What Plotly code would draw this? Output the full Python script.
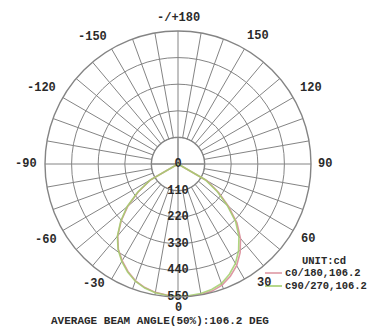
import math
import numpy as np
import plotly.graph_objects as go

# ---- data ----
angles = [-90, -85, -80, -75, -70, -65, -60, -55, -50, -45, -40, -35, -30, -25, -20, -15, -10, -5,
          0, 5, 10, 15, 20, 25, 30, 35, 40, 45, 50, 55, 60, 65, 70, 75, 80, 85, 90]
c0_180 = [0, 0, 0, 0, 0, 0, 130, 200, 270, 332, 388, 430, 462, 490, 514, 529, 539, 544,
          547, 549, 549, 544, 533, 512, 485, 448, 402, 345, 272, 205, 138, 0, 0, 0, 0, 0, 0]
c90_270 = [0, 0, 0, 0, 0, 0, 135, 205, 275, 335, 390, 432, 465, 493, 516, 531, 541, 545,
           546, 546, 544, 537, 526, 503, 475, 437, 392, 337, 265, 198, 130, 0, 0, 0, 0, 0, 0]
radial_ticks = [0, 110, 220, 330, 440, 550]
angular_labels = ["0", "30", "60", "90", "120", "150", "-/+180", "-150", "-120", "-90", "-60", "-30"]
series_names = ["c0/180,106.2", "c90/270,106.2"]
series_colors = ["#dd98a4", "#a3cf6c"]

# ---- layout / styling (positions) ----
label_theta = [0, 36, 60, 90, 120, 148, 180, 214, 241, 270, 300, 325]
label_rpx = [144, 147, 150, 147, 153, 151, 146, 153, 156, 152, 152, 146]

W, H = 367, 329
cx, cy, R = 178, 164, 133
RMAX = radial_ticks[-1]
GRID = "#848484"
GW = 1.4
FONT = "Liberation Mono"
TXT = "#2a2a2a"

fig = go.Figure()

# inner circle mask (no spokes inside the first ring)
circ_t = np.linspace(0, 360, 181)
fig.add_trace(go.Scatterpolar(r=[radial_ticks[1]] * len(circ_t), theta=circ_t, mode="lines",
                              fill="toself", fillcolor="white",
                              line=dict(color=GRID, width=GW), hoverinfo="skip", showlegend=False))
# axes through the centre
for a in (0, 90):
    fig.add_trace(go.Scatterpolar(r=[radial_ticks[1], radial_ticks[1]], theta=[a, a + 180], mode="lines",
                                  line=dict(color=GRID, width=GW), hoverinfo="skip", showlegend=False))

# data curves
for vals, name, col, op in zip([c0_180, c90_270], series_names, series_colors, [1.0, 0.85]):
    fig.add_trace(go.Scatterpolar(r=vals, theta=angles, mode="lines", name=name, opacity=op,
                                  line=dict(color=col, width=1.6), showlegend=False))

# radial tick labels
fig.add_trace(go.Scatterpolar(r=radial_ticks, theta=[0] * len(radial_ticks), mode="text",
                              text=[f"<b>{v}</b>" for v in radial_ticks],
                              textfont=dict(family=FONT, size=12, color=TXT),
                              textposition="middle center", hoverinfo="skip", showlegend=False))

fig.update_layout(
    width=W, height=H,
    margin=dict(l=0, r=0, t=0, b=0),
    paper_bgcolor="white", plot_bgcolor="white",
    showlegend=False,
    polar=dict(
        domain=dict(x=[(cx - R) / W, (cx + R) / W], y=[(H - cy - R) / H, (H - cy + R) / H]),
        bgcolor="white",
        angularaxis=dict(rotation=270, direction="counterclockwise",
                         tickmode="linear", tick0=0, dtick=10,
                         showticklabels=False, ticks="",
                         showgrid=True, gridcolor=GRID, gridwidth=GW,
                         showline=True, linecolor=GRID, linewidth=GW),
        radialaxis=dict(range=[0, RMAX], tickvals=radial_ticks[1:],
                        showticklabels=False, ticks="", showline=False,
                        showgrid=True, gridcolor=GRID, gridwidth=GW),
    ),
)

# angular labels placed around the dial (0 at bottom, counterclockwise)
for txt, th, rp in zip(angular_labels, label_theta, label_rpx):
    px = cx + rp * math.sin(math.radians(th))
    py = cy + rp * math.cos(math.radians(th))
    fig.add_annotation(x=px / W, y=1 - py / H, xref="paper", yref="paper", text=f"<b>{txt}</b>",
                       showarrow=False, font=dict(family=FONT, size=12, color=TXT),
                       xanchor="center", yanchor="middle")

# legend (unit + keys)
fig.add_annotation(x=324 / W, y=1 - 261 / H, xref="paper", yref="paper", text="<b>UNIT:cd</b>",
                   showarrow=False, font=dict(family=FONT, size=10.5, color=TXT),
                   xanchor="center", yanchor="middle")
for i, (name, col) in enumerate(zip(series_names, series_colors)):
    yy = 273 + 13 * i
    fig.add_shape(type="line", xref="paper", yref="paper", x0=265 / W, x1=282 / W,
                  y0=1 - yy / H, y1=1 - yy / H, line=dict(color=col, width=1.6))
    fig.add_annotation(x=283 / W, y=1 - yy / H, xref="paper", yref="paper", text=f"<b>{name}</b>",
                       showarrow=False, font=dict(family=FONT, size=10.5, color=TXT),
                       xanchor="left", yanchor="middle")

fig.add_annotation(x=160 / W, y=1 - 321 / H, xref="paper", yref="paper",
                   text="<b>AVERAGE BEAM ANGLE(50%):106.2 DEG</b>", showarrow=False,
                   font=dict(family=FONT, size=11, color=TXT), xanchor="center", yanchor="middle")

fig.write_html("out.html", config={"displayModeBar": False},
               post_script="document.body.style.margin='0';document.body.style.overflow='hidden';")
